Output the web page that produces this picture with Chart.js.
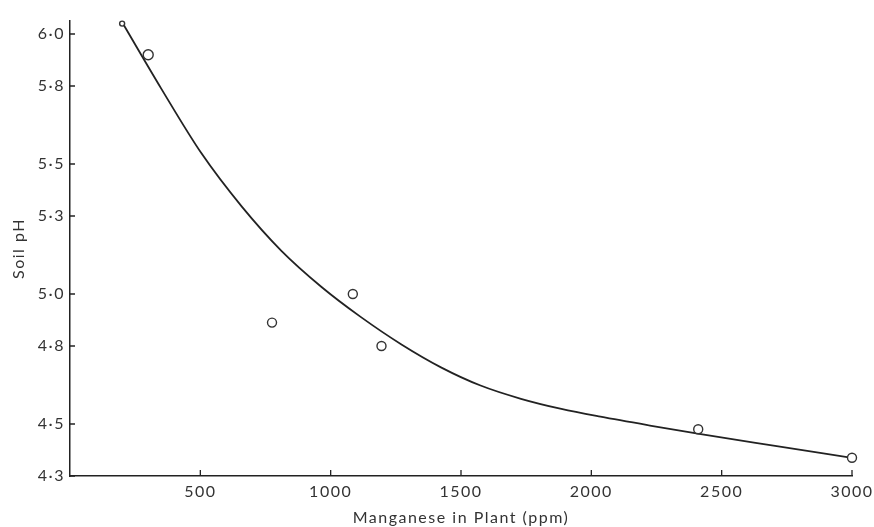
<!DOCTYPE html>
<html>
<head>
<meta charset="utf-8">
<script src="https://cdn.jsdelivr.net/npm/chart.js@4.4.1/dist/chart.umd.min.js"></script>
<style>
  html, body { margin: 0; padding: 0; background: #ffffff; }
  #wrap { width: 874px; height: 527px; }
</style>
</head>
<body>
<div id="wrap"><canvas id="c" width="874" height="527"></canvas></div>
<script>
// Observed points: manganese in plant (ppm) vs soil pH
const obsMn = [200, 300, 775, 1085, 1195, 2410, 3000];
const obsPH = [6.04, 5.92, 4.89, 5.00, 4.80, 4.48, 4.37];
const obsRadius = [2.5, 5, 4.5, 4.5, 4.5, 4.5, 4.5];

// Fitted curve
const curveMn = [200, 350, 505, 660, 810, 965, 1115, 1270, 1425, 1575, 1730, 1885, 2035, 2225, 2420, 2705, 3000];
const curvePH = [6.045, 5.79, 5.54, 5.335, 5.167, 5.027, 4.912, 4.807, 4.717, 4.648, 4.597, 4.558, 4.528, 4.494, 4.461, 4.416, 4.370];

// Axis ticks
const xTickValues = [500, 1000, 1500, 2000, 2500, 3000];
const xTickLabels = ['500', '1000', '1500', '2000', '2500', '3000'];
const yTickValues = [4.3, 4.5, 4.8, 5.0, 5.3, 5.5, 5.8, 6.0];
const yTickLabels = ['4·3', '4·5', '4·8', '5·0', '5·3', '5·5', '5·8', '6·0'];

const INK = '#222222';
const TEXT = '#333333';

const spacedText = {
  id: 'spacedText',
  beforeLayout(chart) { chart.ctx.letterSpacing = '1.5px'; },
  beforeDraw(chart) { chart.ctx.letterSpacing = '1.5px'; }
};

const inwardTicks = {
  id: 'inwardTicks',
  afterDraw(chart) {
    const ctx = chart.ctx;
    const xs = chart.scales.x, ys = chart.scales.y;
    const area = chart.chartArea;
    ctx.save();
    ctx.strokeStyle = INK;
    ctx.lineWidth = 1.3;
    ctx.beginPath();
    xs.ticks.forEach((t) => {
      const px = xs.getPixelForValue(t.value);
      ctx.moveTo(px, area.bottom);
      ctx.lineTo(px, area.bottom - 6);
    });
    ys.ticks.forEach((t) => {
      const py = ys.getPixelForValue(t.value);
      ctx.moveTo(area.left, py);
      ctx.lineTo(area.left + 5, py);
    });
    ctx.stroke();
    ctx.restore();
  }
};

new Chart(document.getElementById('c'), {
  data: {
    datasets: [
      {
        type: 'scatter',
        label: 'Observed',
        data: obsMn.map((x, i) => ({ x: x, y: obsPH[i] })),
        pointRadius: obsRadius,
        pointHoverRadius: obsRadius,
        pointBackgroundColor: '#ffffff',
        pointBorderColor: '#333333',
        pointBorderWidth: 1.4,
        showLine: false,
        clip: false,
        order: 0
      },
      {
        type: 'line',
        label: 'Curve',
        data: curveMn.map((x, i) => ({ x: x, y: curvePH[i] })),
        borderColor: INK,
        borderWidth: 1.8,
        pointRadius: 0,
        fill: false,
        cubicInterpolationMode: 'monotone',
        order: 1
      }
    ]
  },
  options: {
    responsive: false,
    animation: false,
    devicePixelRatio: 1,
    layout: { padding: { top: 21, right: 22, left: 0, bottom: 0 } },
    plugins: {
      legend: { display: false },
      tooltip: { enabled: false }
    },
    scales: {
      x: {
        type: 'linear',
        min: 0,
        max: 3000,
        afterFit(scale) { scale.height = 51; scale.paddingLeft = 0; scale.paddingRight = 0; },
        afterBuildTicks(scale) { scale.ticks = xTickValues.map(v => ({ value: v })); },
        grid: { display: false, drawTicks: false },
        border: { display: true, color: INK, width: 1.5 },
        ticks: {
          padding: 6,
          color: TEXT,
          font: { family: 'Lato', size: 16 },
          maxRotation: 0,
          callback(value, index) { return xTickLabels[index]; }
        },
        title: {
          display: true,
          text: 'Manganese in Plant (ppm)',
          color: TEXT,
          font: { family: 'Lato', size: 16 },
          padding: { top: 1, bottom: 0 }
        }
      },
      y: {
        type: 'linear',
        min: 4.3,
        max: 6.05,
        afterFit(scale) { scale.width = 70; scale.paddingTop = 0; scale.paddingBottom = 0; },
        afterBuildTicks(scale) { scale.ticks = yTickValues.map(v => ({ value: v })); },
        grid: { display: false, drawTicks: false },
        border: { display: true, color: INK, width: 1.5 },
        ticks: {
          padding: 5,
          color: TEXT,
          font: { family: 'Lato', size: 16 },
          callback(value, index) { return yTickLabels[index]; }
        },
        title: {
          display: true,
          text: 'Soil pH',
          color: TEXT,
          font: { family: 'Lato', size: 16 },
          padding: { top: 9, bottom: 0 }
        }
      }
    }
  },
  plugins: [spacedText, inwardTicks]
});
</script>
</body>
</html>
